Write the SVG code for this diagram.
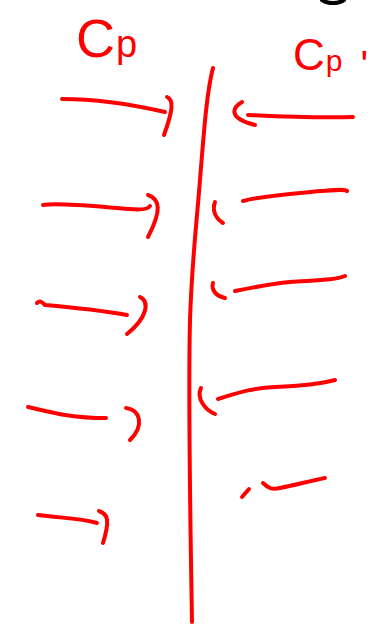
<svg xmlns="http://www.w3.org/2000/svg" width="373" height="629" viewBox="0 0 373 629">
<style>
.s{fill:none;stroke:#ff0000;stroke-width:4;stroke-linecap:round;stroke-linejoin:round}
.t{fill:#ff0000;font-family:"Liberation Sans",Arial,sans-serif}
</style>
<rect width="373" height="629" fill="#ffffff"/>
<path d="M322,0 C328,4 338,4 344,0" fill="none" stroke="#000000" stroke-width="4" stroke-linecap="round"/>
<g id="label-left">
<text class="t" x="76" y="57" font-size="54">C<tspan font-size="38" dx="1" dy="0">p</tspan></text>
</g>
<g id="label-right">
<text class="t" x="293" y="70" font-size="44">C<tspan font-size="30" dx="1" dy="1">p</tspan><tspan font-size="40" dx="18" dy="8">'</tspan></text>
</g>
<g id="wall">
<path class="s" d="M213,68 C207,90 204,130 200,180 C196,230 192,260 190,320 C188,400 190,500 192,622"/>
</g>
<g id="connectors">
<path class="s" d="M62,99 C90,99 130,104 165,112"/>
<path class="s" d="M167,97 C174,100 173,110 164,135"/>
<path class="s" d="M43,205 C60,202 100,207 130,209 C140,210 148,209 150,206"/>
<path class="s" d="M148,195 C160,199 162,210 148,237"/>
<path class="s" d="M37,303 C40,300 42,302 45,305 C80,308 110,312 127,315"/>
<path class="s" d="M140,297 C150,302 147,318 127,334"/>
<path class="s" d="M28,407 C50,412 70,418 106,418"/>
<path class="s" d="M126,408 C140,410 145,425 130,440"/>
<path class="s" d="M38,515 C60,518 80,518 97,523"/>
<path class="s" d="M99,511 C108,514 110,520 103,543"/>
<path class="s" d="M248,115 C290,117 320,118 353,117"/>
<path class="s" d="M242,102 C232,108 228,118 255,125"/>
<path class="s" d="M243,201 C260,196 290,194 320,191 C335,190 345,189 347,191"/>
<path class="s" d="M215,202 C212,210 215,218 223,223"/>
<path class="s" d="M235,291 C255,287 270,284 290,282 C320,280 335,280 345,276"/>
<path class="s" d="M213,283 C211,290 216,296 225,298"/>
<path class="s" d="M218,399 C235,394 250,388 275,387 C300,386 320,384 335,380"/>
<path class="s" d="M201,388 C196,398 205,410 215,414"/>
<path class="s" d="M263,483 C268,488 272,490 280,488 C295,485 310,481 325,478"/>
<path class="s" d="M249,489 L242,497"/>
</g>
</svg>
